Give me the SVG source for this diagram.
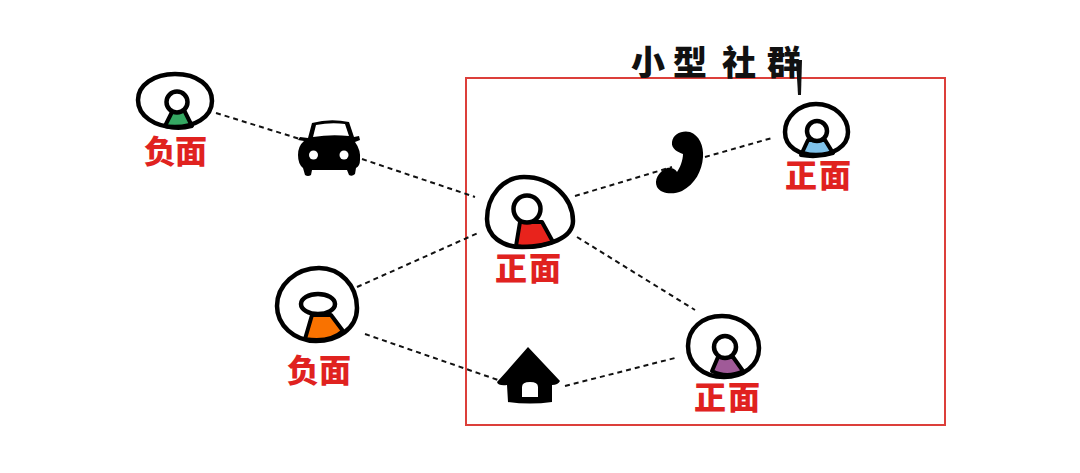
<svg xmlns="http://www.w3.org/2000/svg" width="1080" height="473" viewBox="0 0 1080 473">
<style>
.o{fill:none;stroke:#000;stroke-width:4.5;stroke-linecap:round;stroke-linejoin:round}
.b{stroke:#000;stroke-width:4;stroke-linejoin:round}
.h{fill:#fff;stroke:#000;stroke-width:4.5}
.l{font-family:"Noto Sans CJK SC","Noto Sans",sans-serif;font-weight:900;font-size:32px;fill:#e0221f}
.t{font-family:"Noto Sans CJK SC","Noto Sans",sans-serif;font-weight:900;font-size:34px;fill:#111}
.c{fill:none;stroke:#111;stroke-width:2;stroke-dasharray:5 4}
.k{fill:#000}
</style>
<rect width="1080" height="473" fill="#fff"/>
<rect id="group-box" x="466" y="78" width="479" height="347" fill="none" stroke="#dc3f3a" stroke-width="2"/>
<g id="connectors">
<path class="c" d="M216 113L300 139"/>
<path class="c" d="M362 159L475 197"/>
<path class="c" d="M357 287L478 233"/>
<path class="c" d="M365 334L498 380"/>
<path class="c" d="M575 196L672 167"/>
<path class="c" d="M705 157L772 138"/>
<path class="c" d="M577 237L695 310"/>
<path class="c" d="M565 386L675 358"/>
</g>
<g id="person-green">
<path d="M165 126L173 110H184L192 126Q178 130 165 126Z" fill="#35a862" class="b"/>
<circle class="h" cx="177" cy="102" r="10.500"/>
<path class="o" d="M175 74C198 74 212 86 212 101C212 118 193 127 175 127C155 127 138 116 138 100C138 85 154 74 175 74Z"/>
<text class="l" x="144 175" y="163">负面</text>
</g>
<g id="car">
<path class="k" d="M308 138L312 123Q330 118 349 122L354 137L359 136L360 140L355 142Q361 150 360 160Q360 166 356 168L355 174Q352 177 349 175L347 170H312L311 175Q308 177 305 175L303 168Q298 164 298 155Q298 146 304 141L298 140L300 137Z"/>
<path fill="#fff" d="M313 137L316 125Q331 122 345 124L349 136Q331 134 313 137Z"/>
<circle cx="313.500" cy="155" r="4.500" fill="#fff"/>
<circle cx="344" cy="155" r="4.500" fill="#fff"/>
</g>
<g id="person-red">
<path d="M516 246L520 222H542L553 242Q535 249 516 246Z" fill="#e8231c" class="b"/>
<circle class="h" cx="527" cy="209" r="13.500"/>
<path class="o" d="M524 177C552 177 573 198 573 221C573 238 548 247 522 247C502 247 487 236 487 219C487 196 503 177 524 177Z"/>
<text class="l" x="495 529" y="280">正面</text>
</g>
<g id="phone">
<path class="k" d="M672 142C673 134 682 130 690 132C699 135 704 146 703 157C702 171 695 184 682 191C673 195 661 194 657 187C654 180 658 172 667 168C672 167 676 170 677 172C680 168 683 160 683 154C678 152 671 149 672 142Z"/>
</g>
<g id="person-blue">
<path d="M801 155L808 140H825L833 153Q817 158 801 155Z" fill="#7fc2ea" class="b"/>
<circle class="h" cx="817" cy="131" r="10"/>
<path class="o" d="M816 104C834 104 848 117 848 132C848 147 832 155 816 155C799 155 785 147 785 132C785 117 799 104 816 104Z"/>
<text class="l" x="785 819" y="187">正面</text>
</g>
<g id="person-orange">
<path d="M305 339L312 315H331L343 331Q330 343 305 339Z" fill="#f97200" class="b"/>
<ellipse class="h" cx="318" cy="304" rx="17" ry="10"/>
<path class="o" d="M319 268C340 268 357 285 357 308C357 329 337 341 316 341C294 341 277 325 277 306C277 285 296 268 319 268Z"/>
<text class="l" x="287 319" y="382">负面</text>
</g>
<g id="house">
<path class="k" d="M528 347L560 381Q558 385 552 385V402Q530 405 508 402L507 385Q498 386 497 382L507 371Z"/>
<path d="M522 397V387Q522 382 530 382Q538 382 538 387V397Z" fill="#fff"/>
</g>
<g id="person-purple">
<path d="M712 371L718 357H733L743 371Q727 379 712 371Z" fill="#a05a98" class="b"/>
<circle class="h" cx="725" cy="347" r="11"/>
<path class="o" d="M722 316C742 316 759 330 759 348C759 366 743 377 724 377C703 377 688 364 688 346C688 329 702 316 722 316Z"/>
<text class="l" x="694 728" y="409">正面</text>
</g>
<g id="title">
<text class="t" x="631 673 722 767" y="75">小型社群</text>
<path d="M796 60L802 60L801 95L798 95Z" fill="#111"/>
</g>
</svg>
